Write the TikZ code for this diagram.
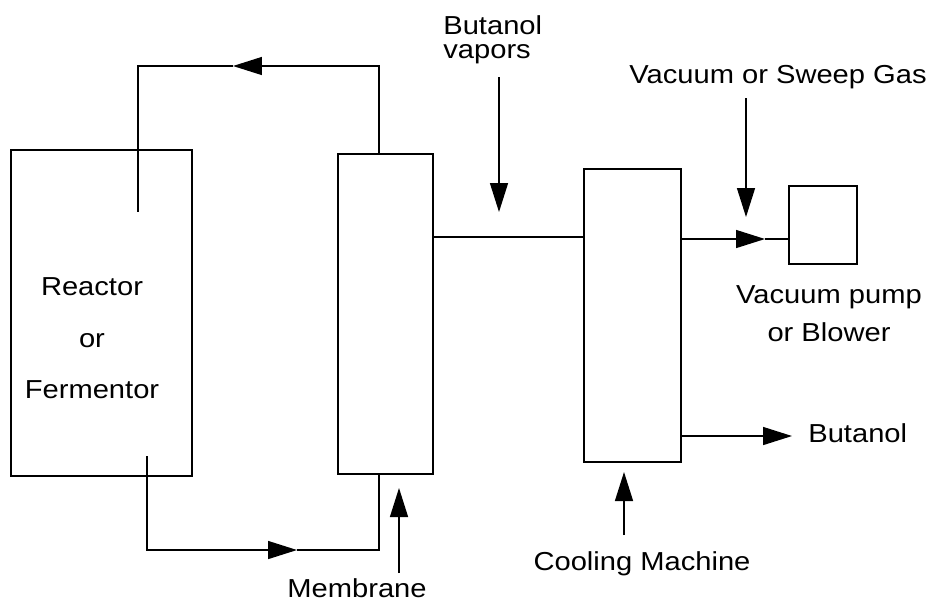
\documentclass[tikz,border=0pt]{standalone}
\usepackage{fontspec}
\setmainfont{Liberation Sans}[FakeStretch=1.12]
\usepackage{tikz}
\usetikzlibrary{arrows.meta,positioning}

\begin{document}
\begin{tikzpicture}[
  x=0.02cm, y=-0.02cm,
  every node/.style={font=\fontsize{14.8}{17}\selectfont},
  unit/.style={draw,line width=0.8pt,inner sep=0pt},
  pipe/.style={line width=0.8pt},
  flow/.style={-{Triangle[length=5.8mm,width=3.6mm]},line width=0.8pt},
  lbl/.style={inner sep=0pt}
]
  \useasboundingbox (0,0) rectangle (935,600);

  % Equipos del proceso.
  \node[unit,minimum width=3.62cm,minimum height=6.52cm] (reactor) at (101.5,313) {};
  \node[unit,minimum width=1.9cm,minimum height=6.4cm] (membrane) at (385.5,314) {};
  \node[unit,minimum width=1.94cm,minimum height=5.86cm] (cooler) at (632.5,315.5) {};
  \node[unit,minimum width=1.36cm,minimum height=1.56cm] (pump) at (823,225) {};

  % Textos.
  \node[lbl,align=center,anchor=north,font=\fontsize{14.8}{29.5}\selectfont]
    (reactortxt) at (92,277) {Reactor\\or\\Fermentor};
  \node[lbl,align=left,anchor=north west,font=\fontsize{14.8}{13.6}\selectfont]
    (vaportxt) at (443,15) {Butanol\\vapors};
  \node[lbl,anchor=base] (sweeptxt) at (778,83) {Vacuum or Sweep Gas};
  \node[lbl,align=center,anchor=north,font=\fontsize{14.8}{22}\selectfont]
    (pumptxt) at (829,285) {Vacuum pump\\or Blower};
  \node[lbl,anchor=base west] (butanoltxt) at (808,442) {Butanol};
  \node[lbl,anchor=base] (coolingtxt) at (642,570) {Cooling Machine};
  \node[lbl,anchor=base] (membranetxt) at (357,597) {Membrane};

  % Puntos de las tuberias.
  \coordinate (rtop) at (138,212);
  \coordinate (mtop) at (379,154);
  \coordinate (retarrow) at (233,66);
  \coordinate (rbot) at (147,456);
  \coordinate (feedarrow) at (297,550);
  \coordinate (mbot) at (379,474);
  \coordinate (vapline) at (499,237);
  \coordinate (vaptail) at (499,77);
  \coordinate (vaptip) at (499,212);
  \coordinate (vacpipe) at (765,239);
  \coordinate (vactail) at (746,98);
  \coordinate (vactip) at (746,217);
  \coordinate (butout) at (792,436);
  \coordinate (cooltail) at (624,535);
  \coordinate (cooltip) at (624,472);
  \coordinate (memtail) at (399,573);
  \coordinate (memtip) at (399,488);

  % Circuito reactor - membrana.
  \draw[flow] (mtop) |- (retarrow);
  \draw[pipe] (retarrow) -| (rtop);
  \draw[flow] (rbot) |- (feedarrow);
  \draw[pipe] (feedarrow) -| (mbot);

  % Vapores hacia el enfriador y salidas.
  \draw[pipe] (membrane.east |- vapline) -- (cooler.west |- vapline);
  \draw[flow] (vaptail) -- (vaptip);
  \draw[flow] (cooler.east |- vacpipe) -- (vacpipe);
  \draw[pipe] (vacpipe) -- (pump.west |- vacpipe);
  \draw[flow] (vactail) -- (vactip);
  \draw[flow] (cooler.east |- butout) -- (butout);
  \draw[flow] (cooltail) -- (cooltip);
  \draw[flow] (memtail) -- (memtip);
\end{tikzpicture}
\end{document}
